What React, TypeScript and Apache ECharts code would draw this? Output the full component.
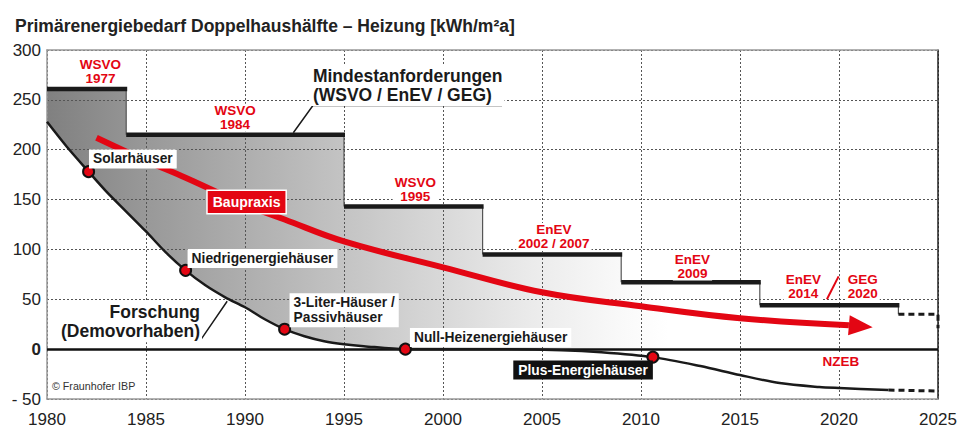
import React, { useEffect, useRef } from 'react';
import * as echarts from 'echarts';

const TITLE = 'Primärenergiebedarf Doppelhaushälfte – Heizung [kWh/m²a]';
const FONT = '"Liberation Sans", Arial, Helvetica, sans-serif';
const RED = '#e30613';

// x axis years, y axis values
const xTicks = [1980, 1985, 1990, 1995, 2000, 2005, 2010, 2015, 2020, 2025];
const yTicks = [-50, 0, 50, 100, 150, 200, 250, 300];

// Mindestanforderungen (WSVO / EnEV / GEG) steps
const stepStart = [1980, 1984, 1995, 2002, 2009, 2016];
const stepEnd = [1984, 1995, 2002, 2009, 2016, 2023];
const stepValue = [261, 215, 143, 95, 67, 44];
const stepOutlook = [[2023, 35], [2025, 35], [2025, 21]];

// Forschung (Demovorhaben)
const researchYears = [1980, 1981, 1982.1, 1983, 1984, 1985, 1986, 1987, 1988, 1989, 1990, 1991, 1992, 1993, 1994, 1995, 1996, 1998.1, 2002, 2006, 2008, 2010.6, 2013, 2015, 2017, 2019, 2020, 2022.5];
const researchValues = [228, 203, 178, 158, 138, 118, 97, 79, 64, 52, 42, 30, 20, 13, 8, 5, 3, 0, 0, -1, -3, -8, -17, -26, -34, -38, -39, -41];
const researchOutlook = [[2022.5, -41], [2025, -42]];

// milestones on the research curve
const milestoneYears = [1982.1, 1987, 1992, 1998.1, 2010.6];
const milestoneValues = [178, 79, 20, 0, -8];

// Baupraxis
const practiceYears = [1982.5, 1985, 1987, 1990, 1992, 1995, 2000, 2005, 2010, 2015, 2020.5];
const practiceValues = [212, 189, 172, 145, 130, 108, 82, 57, 43, 31, 24];
const practiceArrowTip = [2021.7, 22];

type Ann = {
  text: string; x: number; y: number; kind: string;
  align?: string;
};

const annotations: Ann[] = [
  { text: 'WSVO\n1977', x: 1982.7, y: 278, kind: 'reg' },
  { text: 'WSVO\n1984', x: 1989.5, y: 232, kind: 'reg' },
  { text: 'WSVO\n1995', x: 1998.6, y: 160, kind: 'reg' },
  { text: 'EnEV\n2002 / 2007', x: 2005.6, y: 112.5, kind: 'reg' },
  { text: 'EnEV\n2009', x: 2012.6, y: 83, kind: 'reg' },
  { text: 'EnEV\n2014', x: 2018.2, y: 63, kind: 'reg' },
  { text: 'GEG\n2020', x: 2021.2, y: 63, kind: 'reg' },
  { text: 'NZEB', x: 2020.1, y: -12, kind: 'reg' },
  { text: 'Mindestanforderungen\n(WSVO / EnEV / GEG)', x: 1993.33, y: 264.5, kind: 'big', align: 'left' },
  { text: 'Forschung\n(Demovorhaben)', x: 1987.83, y: 27.5, kind: 'big', align: 'right' },
  { text: 'Solarhäuser', x: 1982.12, y: 190.8, kind: 'pt' },
  { text: 'Niedrigenergiehäuser', x: 1987.1, y: 90.8, kind: 'pt' },
  { text: '3-Liter-Häuser /\nPassivhäuser', x: 1992.25, y: 39, kind: 'pt' },
  { text: 'Null-Heizenergiehäuser', x: 1998.33, y: 11.7, kind: 'pt' },
  { text: 'Plus-Energiehäuser', x: 2003.55, y: -21, kind: 'dark' },
  { text: 'Baupraxis', x: 1990.08, y: 147.5, kind: 'redbox' },
  { text: '© Fraunhofer IBP', x: 1980.25, y: -37, kind: 'copy' },
];

// leader lines (data coordinates)
const leaders: { pts: number[][]; color: string; width: number }[] = [
  { pts: [[1992.44, 217], [1993.43, 244.3], [2002.98, 244.3]], color: '#1a1a1a', width: 1.5 },
  { pts: [[1980.69, 8.3], [1987.73, 8.3], [1989.1, 48]], color: '#1a1a1a', width: 1.5 },
  { pts: [[2019.98, 73], [2019.39, 50]], color: RED, width: 2 },
];

function annStyle(a: Ann) {
  const base: any = { text: a.text, fontFamily: FONT, fontWeight: 'bold' };
  switch (a.kind) {
    case 'reg':
      return { ...base, fill: RED, fontSize: 13.5, lineHeight: 14, align: 'center', verticalAlign: 'middle', backgroundColor: '#fff', padding: [0, 2] };
    case 'big':
      return { ...base, fill: '#1a1a1a', fontSize: 17.5, lineHeight: 19.5, align: a.align, verticalAlign: 'middle', backgroundColor: '#fff', padding: [1, 2] };
    case 'pt':
      return { ...base, fill: '#1a1a1a', fontSize: 13.8, lineHeight: 15, align: 'left', verticalAlign: 'middle', backgroundColor: '#fff', padding: [2, 4] };
    case 'dark':
      return { ...base, fill: '#fff', fontSize: 13.8, lineHeight: 15, align: 'left', verticalAlign: 'middle', backgroundColor: '#111', padding: [2, 5] };
    case 'redbox':
      return { ...base, fill: '#fff', fontSize: 14, lineHeight: 16, align: 'center', verticalAlign: 'middle', backgroundColor: RED, borderColor: '#fff', borderWidth: 1.5, padding: [3, 5] };
    default:
      return { ...base, fontWeight: 'normal', fill: '#333', fontSize: 10.7, align: 'left', verticalAlign: 'middle' };
  }
}

export default function App() {
  const ref = useRef<HTMLDivElement>(null);
  useEffect(() => {
    if (!ref.current) return;
    const chart = echarts.init(ref.current, undefined, { renderer: 'svg' });

    const fillGradient = new echarts.graphic.LinearGradient(0, 0, 1, 0, [
      { offset: 0, color: '#808080' },
      { offset: 0.114, color: '#989898' },
      { offset: 0.34, color: '#c2c2c2' },
      { offset: 0.455, color: '#d7d7d7' },
      { offset: 0.57, color: '#ebebeb' },
      { offset: 0.68, color: '#fafafa' },
      { offset: 0.73, color: '#ffffff' },
      { offset: 1, color: '#ffffff' },
    ]);

    const option: any = {
      animation: false,
      backgroundColor: '#fff',
      title: {
        text: TITLE, left: 10, top: 12,
        textStyle: { fontFamily: FONT, fontSize: 17.5, fontWeight: 'bold', color: '#222' },
      },
      grid: { left: 47, right: 22, top: 50, bottom: 28 },
      xAxis: [
        {
          type: 'value', min: 1980, max: 2025, interval: 5, z: 2,
          axisLine: { onZero: false, lineStyle: { color: '#999', width: 1.5 } },
          axisTick: { show: false },
          axisLabel: { fontFamily: FONT, fontSize: 17, color: '#222', margin: 12, formatter: (v: number) => (xTicks.includes(v) ? String(v) : '') },
          splitLine: { show: true, lineStyle: { color: '#555', width: 1, type: [2, 2] } },
        },
        {
          type: 'value', min: 1980, max: 2025, interval: 5, position: 'top', z: 2,
          axisLine: { show: true, onZero: false, lineStyle: { color: '#999', width: 1.5 } },
          axisTick: { show: false }, axisLabel: { show: false }, splitLine: { show: false },
        },
      ],
      yAxis: [
        {
          type: 'value', min: -50, max: 300, interval: 50, z: 2,
          axisLine: { show: true, onZero: false, lineStyle: { color: '#999', width: 1.5 } },
          axisTick: { show: false },
          axisLabel: {
            fontFamily: FONT, fontSize: 17, color: '#222', margin: 6,
            formatter: (v: number) => (!yTicks.includes(v) ? '' : v === 0 ? '{b|0}' : v < 0 ? '- ' + Math.abs(v) : String(v)),
            rich: { b: { fontFamily: FONT, fontSize: 17, fontWeight: 'bold', color: '#222' } },
          },
          splitLine: { show: true, lineStyle: { color: '#555', width: 1, type: [2, 2] } },
        },
        {
          type: 'value', min: -50, max: 300, interval: 50, position: 'right', z: 2,
          axisLine: { show: true, onZero: false, lineStyle: { color: '#222', width: 1.5 } },
          axisTick: { show: false }, axisLabel: { show: false }, splitLine: { show: false },
        },
      ],
      series: [
        {
          name: 'fill', type: 'custom', z: 1, silent: true, clip: false,
          data: [[1980, 0]],
          renderItem: (_p: any, api: any) => {
            const pts: number[][] = [];
            stepStart.forEach((s, i) => {
              pts.push(api.coord([s, stepValue[i]]));
              pts.push(api.coord([stepEnd[i], stepValue[i]]));
            });
            for (let i = researchYears.length - 1; i >= 0; i--) {
              pts.push(api.coord([researchYears[i], researchValues[i]]));
            }
            return { type: 'polygon', shape: { points: pts }, style: { fill: fillGradient, stroke: 'none' } };
          },
        },
        {
          name: 'steps', type: 'custom', z: 4, silent: true, clip: false,
          data: stepStart.map((s, i) => [s, stepEnd[i], stepValue[i]]),
          renderItem: (params: any, api: any) => {
            const i = params.dataIndex;
            const s = api.coord([stepStart[i], stepValue[i]]);
            const e = api.coord([stepEnd[i], stepValue[i]]);
            const nextVal = i < stepValue.length - 1 ? stepValue[i + 1] : stepOutlook[0][1];
            const n = api.coord([stepEnd[i], nextVal]);
            return {
              type: 'group',
              children: [
                { type: 'line', shape: { x1: e[0], y1: e[1], x2: n[0], y2: n[1] }, style: { stroke: '#555', lineWidth: 1.2 } },
                { type: 'line', shape: { x1: s[0], y1: s[1], x2: e[0] + 1, y2: e[1] }, style: { stroke: '#1a1a1a', lineWidth: 4.5 } },
              ],
            };
          },
        },
        {
          name: 'stepOutlook', type: 'line', z: 4, silent: true, symbol: 'none',
          data: stepOutlook,
          lineStyle: { color: '#1a1a1a', width: 3, type: [6, 4] },
        },
        {
          name: 'Forschung', type: 'line', z: 5, silent: true, symbol: 'none', smooth: 0.3,
          data: researchYears.map((y, i) => [y, researchValues[i]]),
          lineStyle: { color: '#1a1a1a', width: 2.5 },
          markLine: {
            silent: true, symbol: ['none', 'none'], label: { show: false },
            lineStyle: { color: '#111', width: 2.5, type: 'solid' },
            data: [{ yAxis: 0 }],
          },
        },
        {
          name: 'researchOutlook', type: 'line', z: 5, silent: true, symbol: 'none',
          data: researchOutlook,
          lineStyle: { color: '#1a1a1a', width: 3, type: [6, 4] },
        },
        {
          name: 'Baupraxis', type: 'line', z: 5, silent: true, symbol: 'none', smooth: 0.4,
          data: practiceYears.map((y, i) => [y, practiceValues[i]]),
          lineStyle: { color: RED, width: 6, cap: 'butt' },
        },
        {
          name: 'arrow', type: 'custom', z: 5, silent: true, clip: false,
          data: [[practiceYears[practiceYears.length - 1], practiceValues[practiceValues.length - 1]]],
          renderItem: (_p: any, api: any) => {
            const b = api.coord([practiceYears[practiceYears.length - 1], practiceValues[practiceValues.length - 1]]);
            const t = api.coord(practiceArrowTip);
            const dx = t[0] - b[0], dy = t[1] - b[1];
            const len = Math.sqrt(dx * dx + dy * dy) || 1;
            const nx = -dy / len, ny = dx / len, w = 10;
            return {
              type: 'polygon',
              shape: { points: [[b[0] + nx * w, b[1] + ny * w], t, [b[0] - nx * w, b[1] - ny * w]] },
              style: { fill: RED },
            };
          },
        },
        {
          name: 'milestones', type: 'scatter', z: 7, silent: true, symbol: 'circle', symbolSize: 11,
          data: milestoneYears.map((y, i) => [y, milestoneValues[i]]),
          itemStyle: { color: RED, borderColor: '#111', borderWidth: 2, opacity: 1 },
        },
        {
          name: 'leaders', type: 'custom', z: 8, silent: true, clip: false,
          data: leaders.map((l) => l.pts[0]),
          renderItem: (params: any, api: any) => {
            const l = leaders[params.dataIndex];
            return {
              type: 'polyline',
              shape: { points: l.pts.map((p) => api.coord(p)) },
              style: { stroke: l.color, lineWidth: l.width, fill: 'none' },
            };
          },
        },
        {
          name: 'annotations', type: 'custom', z: 9, silent: true, clip: false,
          data: annotations.map((a) => [a.x, a.y]),
          renderItem: (params: any, api: any) => {
            const a = annotations[params.dataIndex];
            const p = api.coord([a.x, a.y]);
            return { type: 'text', x: p[0], y: p[1], style: annStyle(a) };
          },
        },
      ],
    };
    chart.setOption(option);
    return () => chart.dispose();
  }, []);
  return <div ref={ref} style={{ position: 'absolute', left: 0, top: 0, width: 960, height: 428 }} />;
}
